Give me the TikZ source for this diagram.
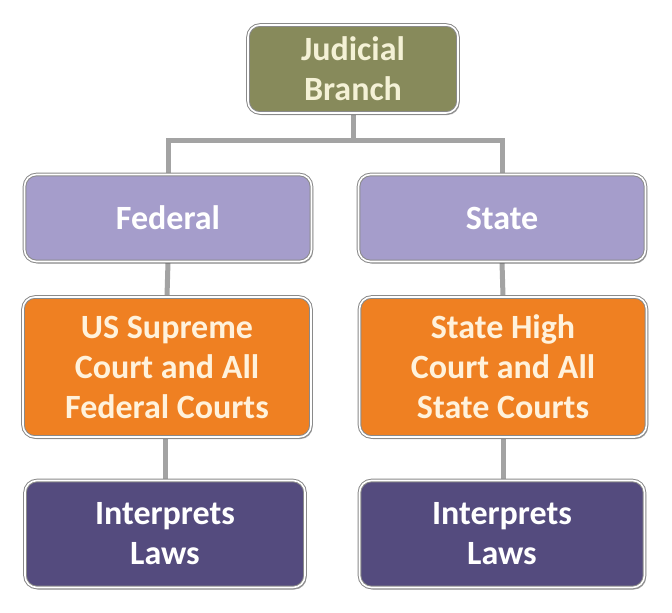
\documentclass[tikz,border=0pt]{standalone}
\usepackage{fontspec}
\setmainfont{Carlito}
\usetikzlibrary{shadows,backgrounds}
\definecolor{olive}{HTML}{878A5B}
\definecolor{lav}{HTML}{A59DCB}
\definecolor{orng}{HTML}{EF8022}
\definecolor{dpurp}{HTML}{544B7E}
\definecolor{conngray}{HTML}{A3A3A3}
\definecolor{boxedge}{HTML}{8A8A8A}
\definecolor{cream}{HTML}{F4F1D6}
\definecolor{ltcream}{HTML}{FFF2DC}
\tikzset{
  box/.style={rectangle, rounded corners=12pt, draw=boxedge, line width=1pt,
    double=white, double distance=1.6pt, align=center,
    font=\fontsize{34}{40}\selectfont\bfseries,
    drop shadow={shadow xshift=1.5pt, shadow yshift=-2pt, opacity=0.35, fill=black}},
  conn/.style={draw=conngray, line width=5pt}
}
\begin{document}
\begin{tikzpicture}[x=1pt,y=-1pt]
\useasboundingbox (0,0) rectangle (672,613);
\node[box, fill=olive, text=cream, minimum width=210pt, minimum height=88pt] (jb) at (353,69) {Judicial\\Branch};
\node[box, fill=lav, text=white, minimum width=287pt, minimum height=87pt] (fed) at (168,218) {Federal};
\node[box, fill=lav, text=white, minimum width=287pt, minimum height=87pt] (st) at (502,218) {State};
\node[box, fill=orng, text=ltcream, minimum width=288pt, minimum height=140pt] (fc) at (167,367) {US Supreme\\Court and All\\Federal Courts};
\node[box, fill=orng, text=ltcream, minimum width=287pt, minimum height=140pt] (sc) at (503,367) {State High\\Court and All\\State Courts};
\node[box, fill=dpurp, text=white, minimum width=280pt, minimum height=107pt] (fi) at (165,534) {Interprets\\Laws};
\node[box, fill=dpurp, text=white, minimum width=285pt, minimum height=107pt] (si) at (502,534) {Interprets\\Laws};
\coordinate (bar) at (353,140);
\begin{scope}[on background layer]
\fill[white] (0,0) rectangle (672,613);
\draw[conn] (jb.south) -- (bar);
\draw[conn] (fed.north) |- (bar) -| (st.north);
\draw[conn] (fed.south) -- (fc.north);
\draw[conn] (st.south) -- (sc.north);
\draw[conn] (fc.south -| fi.north) -- (fi.north);
\draw[conn] (sc.south) -- (sc.south |- si.north);
\end{scope}
\end{tikzpicture}
\end{document}
